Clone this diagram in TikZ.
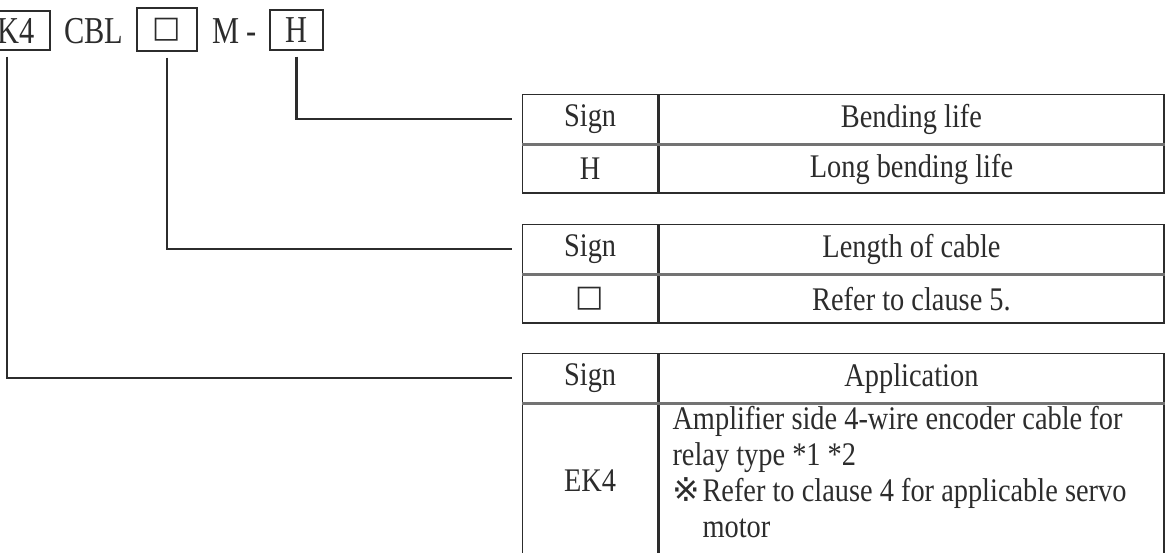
\documentclass[tikz,border=0pt]{standalone}
\usepackage{fontspec}
\setmainfont{Liberation Serif}[FakeStretch=0.86]
\newfontfamily\tagfont{Liberation Serif}[FakeStretch=0.8]
\newfontfamily\symfont{DejaVu Sans}
\definecolor{ink}{HTML}{2C2C2C}
\newcommand\tagsize{\fontsize{38}{40}\tagfont}
\newcommand\boxsign{{\symfont\fontsize{30}{30}\selectfont □}}
\tikzset{
  cell/.style={draw=ink, line width=1.3pt, inner sep=0pt, minimum height=49pt, text=ink},
  signcell/.style={cell, minimum width=135pt},
  textcell/.style={cell, minimum width=505pt},
  tagbox/.style={draw=ink, line width=1.3pt, inner sep=0pt, text=ink, font=\tagsize},
  link/.style={draw=ink, line width=2.2pt, shorten <=6pt, shorten >=10pt},
  divider/.style={draw=black!55, line width=2.6pt},
}
\begin{document}
\begin{tikzpicture}[x=1pt, y=-1pt, font=\fontsize{33}{36}\selectfont]
\useasboundingbox (0,0) rectangle (1165,553);
\clip (0,0) rectangle (1165,553);

% type code
\node[tagbox, minimum width=86pt, minimum height=39pt] (k4) at (7,30.5) {\phantom{E}K4};
\node[text=ink, font=\tagsize] (cbl) at (94,31) {CBL};
\node[tagbox, minimum width=60pt, minimum height=43pt] (sqbox) at (167,29.5) {\boxsign};
\node[text=ink, font=\tagsize] (mdash) at (234.5,31) {M -};
\node[tagbox, minimum width=53pt, minimum height=40pt] (hbox) at (296.5,30) {H};

% tables
\foreach \n/\y/\title in {h/94/Bending life, len/224/Length of cable, app/353/Application}
{
    \node[signcell, anchor=north west] (\n-sign) at (522,\y) {Sign};
    \node[textcell, anchor=north west] (\n-head) at (\n-sign.north east) {\title};
}

\node[signcell, anchor=north west, minimum height=48pt] (h-code) at (h-sign.south west) {H};
\node[textcell, anchor=north west, minimum height=48pt] (h-text) at (h-code.north east) {Long bending life};

\node[signcell, anchor=north west, minimum height=48pt] (len-code) at (len-sign.south west) {\boxsign};
\node[textcell, anchor=north west, minimum height=48pt] (len-text) at (len-code.north east) {Refer to clause 5.};

\node[signcell, anchor=north west, minimum height=154pt] (app-code) at (app-sign.south west) {EK4};
\node[textcell, anchor=north west, minimum height=154pt] (app-text) at (app-code.north east) {};
\node[text=ink, anchor=north west, align=left, inner sep=0pt] (app-note) at ([xshift=14pt, yshift=-3pt]app-text.north west)
    {Amplifier side 4-wire encoder cable for\\
     relay type *1 *2\\
     \makebox[30pt][l]{\symfont ※}Refer to clause 4 for applicable servo\\
     \hspace*{30pt}motor};

\foreach \n in {h,len,app}
{
    \draw[divider] (\n-sign.south west)--(\n-head.south east);
}

% connectors
\draw[link] (hbox) |- (h-sign);
\draw[link] (sqbox) |- (len-sign);
\draw[link] (k4) |- (app-sign);

\end{tikzpicture}
\end{document}
